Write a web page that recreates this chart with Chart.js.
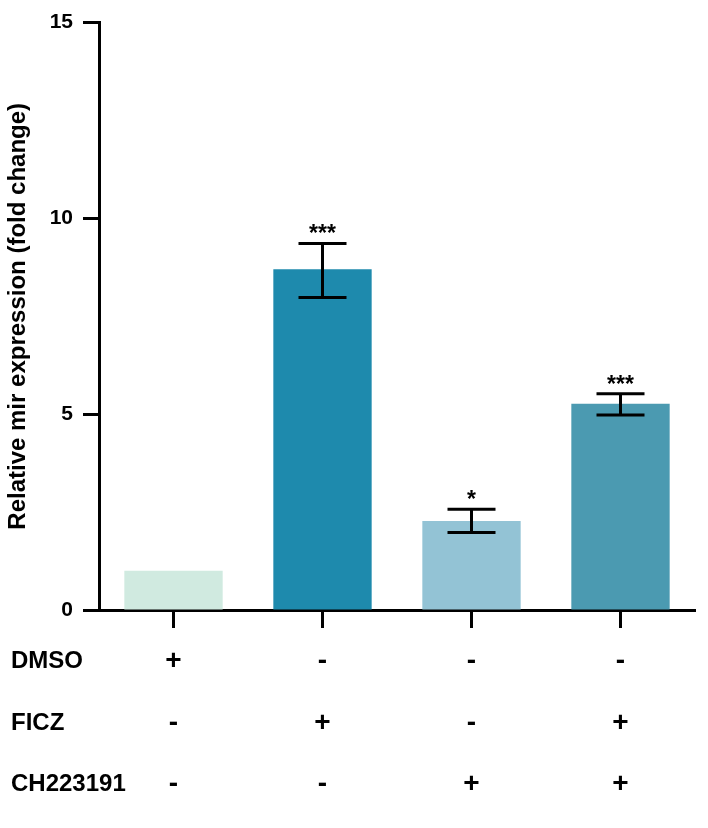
<!DOCTYPE html>
<html><head><meta charset="utf-8">
<script src="https://cdn.jsdelivr.net/npm/chart.js@4/dist/chart.umd.min.js"></script>
<style>html,body{margin:0;padding:0;background:#fff}#wrap{width:708px;height:828px}</style>
</head><body><div id="wrap"><canvas id="c" width="708" height="828"></canvas></div>
<script>
const categories = ['Group 1', 'Group 2', 'Group 3', 'Group 4'];
const meanValues = [1.0, 8.7, 2.27, 5.27];
const errorLow = [null, 7.98, 1.98, 4.98];
const errorHigh = [null, 9.36, 2.57, 5.52];
const significance = ['', '***', '*', '***'];
const barColors = ['#d0eae0', '#1e8aad', '#93c3d5', '#4b9ab1'];
const yTicks = [0, 5, 10, 15];
const treatmentNames = ['DMSO', 'FICZ', 'CH223191'];
const dmso = ['+', '-', '-', '-'];
const ficz = ['-', '+', '-', '+'];
const ch223191 = ['-', '-', '+', '+'];

const FONT = '"Liberation Sans", Arial, Helvetica, sans-serif';
const ROW_LH = 61.5;
const X_TICK_LEN = 18;
const X_TICK_PAD = 3;

const errorBarPlugin = {
  id: 'errorBars',
  afterDatasetsDraw(chart) {
    const ctx = chart.ctx;
    const meta = chart.getDatasetMeta(0);
    const y = chart.scales.y;
    ctx.save();
    ctx.strokeStyle = '#000';
    ctx.lineWidth = 3;
    ctx.fillStyle = '#000';
    meta.data.forEach((bar, i) => {
      const cx = bar.x;
      if (errorHigh[i] != null) {
        const yt = y.getPixelForValue(errorHigh[i]);
        const yb = y.getPixelForValue(errorLow[i]);
        ctx.beginPath();
        ctx.moveTo(cx, yt); ctx.lineTo(cx, yb);
        ctx.moveTo(cx - 24, yt); ctx.lineTo(cx + 24, yt);
        ctx.moveTo(cx - 24, yb); ctx.lineTo(cx + 24, yb);
        ctx.stroke();
      }
      if (significance[i]) {
        const top = errorHigh[i] != null ? y.getPixelForValue(errorHigh[i]) : bar.y;
        ctx.font = 'bold 23px ' + FONT;
        ctx.textAlign = 'center';
        ctx.textBaseline = 'alphabetic';
        ctx.fillText(significance[i], cx, top - 2);
      }
    });
    ctx.restore();
  }
};

const rowLabelPlugin = {
  id: 'rowLabels',
  afterDraw(chart) {
    const ctx = chart.ctx;
    const xs = chart.scales.x;
    ctx.save();
    ctx.font = 'bold 24px ' + FONT;
    ctx.fillStyle = '#000';
    ctx.textAlign = 'left';
    ctx.textBaseline = 'middle';
    treatmentNames.forEach((name, i) => {
      const yy = xs.top + X_TICK_LEN + X_TICK_PAD + ROW_LH * (i + 0.5);
      ctx.fillText(name, 11, yy);
    });
    ctx.restore();
  }
};

new Chart(document.getElementById('c'), {
  type: 'bar',
  data: {
    labels: categories,
    datasets: [{
      data: meanValues,
      backgroundColor: barColors,
      borderWidth: 0,
      barPercentage: 0.66,
      categoryPercentage: 1.0
    }]
  },
  options: {
    responsive: false,
    animation: false,
    devicePixelRatio: 1,
    layout: { padding: { left: 0, top: 20, right: 13, bottom: 0 } },
    plugins: { legend: { display: false }, tooltip: { enabled: false } },
    scales: {
      x: {
        grid: { display: true, drawOnChartArea: false, offset: false, tickLength: X_TICK_LEN, tickWidth: 3, tickColor: '#000' },
        border: { display: true, width: 3, color: '#000' },
        ticks: {
          font: { family: FONT, size: 28, weight: 'bold', lineHeight: ROW_LH + 'px' },
          color: '#000',
          padding: X_TICK_PAD,
          maxRotation: 0,
          autoSkip: false,
          callback: (v, i) => [dmso[i], ficz[i], ch223191[i]]
        },
        afterFit: s => { s.height = 218; }
      },
      y: {
        min: 0, max: 15,
        afterBuildTicks: s => { s.ticks = yTicks.map(v => ({ value: v })); },
        grid: { display: true, drawOnChartArea: false, tickLength: 16, tickWidth: 3, tickColor: '#000' },
        border: { display: true, width: 3, color: '#000' },
        ticks: { font: { family: FONT, size: 21, weight: 'bold' }, color: '#000', padding: 10 },
        title: {
          display: true,
          text: 'Relative mir expression (fold change)',
          font: { family: FONT, size: 24, weight: 'bold' },
          color: '#000',
          padding: { top: 4, bottom: 0 }
        },
        afterFit: s => { s.width = 99; }
      }
    }
  },
  plugins: [errorBarPlugin, rowLabelPlugin]
});
</script>
</body></html>
